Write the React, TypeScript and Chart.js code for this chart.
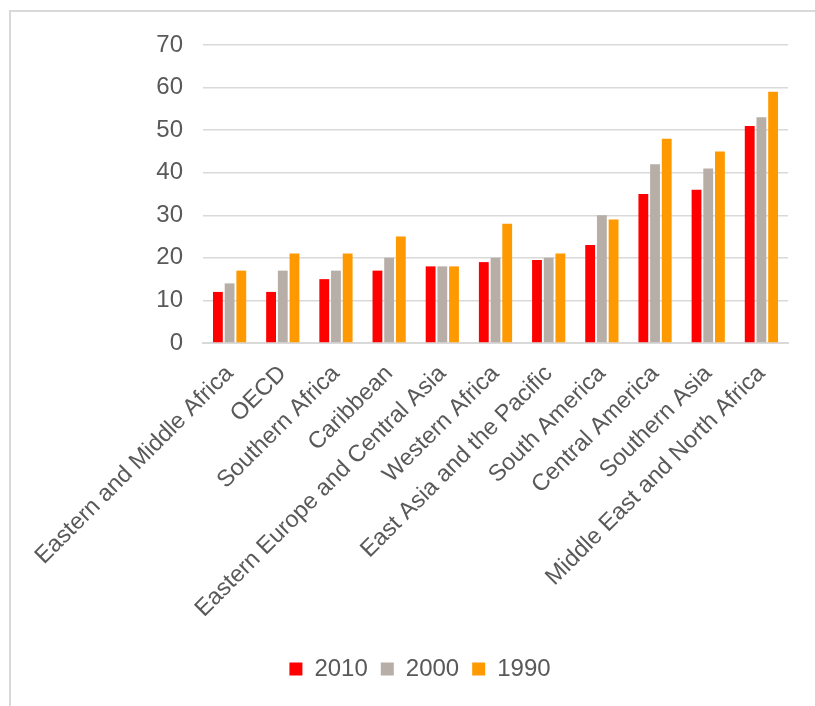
import React, { useEffect, useRef } from "react";
import { Chart, registerables } from "chart.js";

Chart.register(...registerables);

const categories = [
  "Eastern and Middle Africa",
  "OECD",
  "Southern Africa",
  "Caribbean",
  "Eastern Europe and Central Asia",
  "Western Africa",
  "East Asia and the Pacific",
  "South America",
  "Central America",
  "Southern Asia",
  "Middle East and North Africa",
];

const values2010 = [12, 12, 15, 17, 18, 19, 19.5, 23, 35, 36, 51];
const values2000 = [14, 17, 17, 20, 18, 20, 20, 30, 42, 41, 53];
const values1990 = [17, 21, 21, 25, 18, 28, 21, 29, 48, 45, 59];

const seriesLabels = ["2010", "2000", "1990"];
const seriesColors = ["#FF0000", "#B6AEA7", "#FF9900"];

const yMin = 0;
const yMax = 70;
const yStep = 10;

const FONT = "'Liberation Sans', Arial, sans-serif";
const TEXT = "#595959";
const GRID = "#D9D9D9";

const legendShift = {
  id: "legendShift",
  afterLayout(chart: any) {
    const lg = chart.legend;
    if (lg) {
      lg.left += 21;
      lg.right += 21;
    }
  },
};

export default function App() {
  const ref = useRef<HTMLCanvasElement | null>(null);

  useEffect(() => {
    if (!ref.current) return;
    const seriesValues = [values2010, values2000, values1990];
    const chart = new Chart(ref.current, {
      type: "bar",
      data: {
        labels: categories,
        datasets: seriesLabels.map((label, i) => ({
          label,
          data: seriesValues[i],
          backgroundColor: seriesColors[i],
          borderWidth: 0,
          categoryPercentage: 0.66,
          barPercentage: 0.84,
        })),
      },
      plugins: [legendShift],
      options: {
        responsive: false,
        animation: false,
        maintainAspectRatio: false,
        layout: { padding: { left: 10, right: 27, top: 45, bottom: 15 } },
        plugins: {
          tooltip: { enabled: false },
          legend: {
            position: "bottom",
            labels: {
              color: TEXT,
              font: { family: FONT, size: 24 },
              boxWidth: 13,
              boxHeight: 13,
              padding: 13,
            },
          },
        },
        scales: {
          x: {
            grid: { display: false },
            border: { display: true, color: GRID, width: 2 },
            ticks: {
              color: TEXT,
              font: { family: FONT, size: 23.5 },
              maxRotation: 45,
              minRotation: 45,
              autoSkip: false,
              padding: 9,
            },
            afterFit: (scale: any) => {
              scale.height = 301;
            },
          },
          y: {
            min: yMin,
            max: yMax,
            grid: { color: GRID, lineWidth: 1.5, drawTicks: false },
            border: { display: false },
            ticks: {
              stepSize: yStep,
              color: TEXT,
              font: { family: FONT, size: 24 },
              padding: 20,
            },
            afterFit: (scale: any) => {
              scale.width = 193;
            },
          },
        },
      },
    });
    return () => chart.destroy();
  }, []);

  return (
    <div
      style={{
        position: "fixed",
        left: 0,
        top: 0,
        width: 815,
        height: 706,
        overflow: "hidden",
        background: "#fff",
      }}
    >
      <div
        style={{
          position: "absolute",
          left: 9,
          top: 10,
          width: 806,
          height: 696,
          borderTop: `2px solid ${GRID}`,
          borderLeft: `2px solid ${GRID}`,
          boxSizing: "border-box",
        }}
      />
      <canvas
        ref={ref}
        width={815}
        height={706}
        style={{ position: "absolute", left: 0, top: 0, width: 815, height: 706 }}
      />
    </div>
  );
}
